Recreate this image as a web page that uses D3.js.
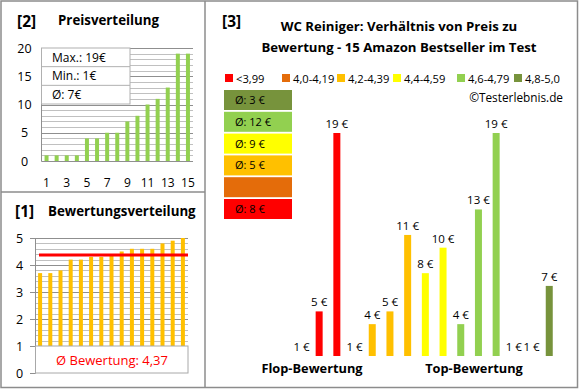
<!DOCTYPE html>
<html><head><meta charset="utf-8">
<script src="https://cdn.jsdelivr.net/npm/d3@7"></script>
<style>
body{margin:0;background:#fff}
svg{display:block}
text{font-family:'Open Sans',sans-serif;fill:#000}
</style>
</head><body>
<svg id="c" width="580" height="390"></svg>
<script>
// ---- data ----
const priceIdx = d3.range(1, 16);
const prices = [1,1,1,1,4,4,5,5,7,8,10,11,13,19,19];
const priceTicks = [0,5,10,15,20];
const priceXTicks = [1,3,5,7,9,11,13,15];
const priceStats = ["Max.: 19€","Min.: 1€","Ø: 7€"];

const ratings = [3.7,3.7,3.8,4.2,4.2,4.3,4.3,4.4,4.5,4.6,4.6,4.6,4.8,4.9,5.0];
const ratingTicks = [0,1,2,3,4,5];
const ratingAvg = 4.37;
const ratingAvgLabel = "Ø Bewertung: 4,37";

const groups = ["<3,99","4,0-4,19","4,2-4,39","4,4-4,59","4,6-4,79","4,8-5,0"];
const groupColors = ["#ff0000","#e46c0a","#ffc000","#ffff00","#92d050","#77933c"];
const groupAvgLabels = ["Ø: 8 €","","Ø: 5 €","Ø: 9 €","Ø: 12 €","Ø: 3 €"];
const slotPrices = [1,5,19,1,4,5,11,8,10,4,13,19,1,1,7];
const slotGroups = [0,0,0,2,2,2,2,3,3,4,4,4,5,5,5];
const sideLabels = ["Flop-Bewertung","Top-Bewertung"];

const svg = d3.select("#c");
const frame = "#8c8c8c";

// ---- frames ----
svg.append("rect").attr("x",1).attr("y",1).attr("width",576.5).attr("height",386.5)
  .attr("fill","none").attr("stroke",frame).attr("stroke-width",1.5);
svg.append("line").attr("x1",205).attr("x2",205).attr("y1",1).attr("y2",387.5)
  .attr("stroke",frame).attr("stroke-width",1.5);
svg.append("line").attr("x1",1).attr("x2",205).attr("y1",192).attr("y2",192)
  .attr("stroke",frame).attr("stroke-width",1.5);

// ---- panel [2] Preisverteilung ----
(function(){
  const g = svg.append("g");
  g.append("text").attr("x",17).attr("y",27).attr("font-size",15.5).attr("font-weight","bold").text("[2]");
  g.append("text").attr("x",58).attr("y",25).attr("font-size",13.3).attr("font-weight","bold").text("Preisverteilung");
  const x = d3.scaleBand().domain(priceIdx).range([41.5,193]);
  const y = d3.scaleLinear().domain([0,20]).range([161,48]);
  const gl = d3.range(0,21);
  g.selectAll(".gl").data(gl).join("line")
    .attr("x1",41.5).attr("x2",193).attr("y1",d=>Math.round(y(d))+0.5).attr("y2",d=>Math.round(y(d))+0.5)
    .attr("stroke",d=>d%5===0?"#8f8f8f":"#c0c0c0").attr("stroke-width",1);
  g.append("line").attr("x1",41.5).attr("x2",41.5).attr("y1",48).attr("y2",161.5).attr("stroke","#8f8f8f");
  g.selectAll(".b").data(prices).join("rect")
    .attr("x",(d,i)=>x(priceIdx[i])+x.bandwidth()/2-2).attr("width",4)
    .attr("y",d=>y(d)).attr("height",d=>y(0)-y(d)).attr("fill","#92d050");
  g.selectAll(".yt").data(priceTicks).join("text")
    .attr("x",24.5).attr("y",d=>y(d)+4.5).attr("text-anchor","middle").attr("font-size",12.5).text(d=>d);
  g.selectAll(".xt").data(priceXTicks).join("text")
    .attr("x",d=>x(d)+x.bandwidth()/2).attr("y",187).attr("text-anchor","middle").attr("font-size",12).text(d=>d);
  // stats box
  const rowH = 56/3;
  g.append("rect").attr("x",41.5).attr("y",48).attr("width",88.5).attr("height",56)
    .attr("fill","#fff").attr("stroke","#b0b0b0");
  g.selectAll(".sep").data([1,2]).join("line")
    .attr("x1",41.5).attr("x2",130).attr("y1",d=>48+d*rowH).attr("y2",d=>48+d*rowH).attr("stroke","#b0b0b0");
  g.selectAll(".st").data(priceStats).join("text")
    .attr("x",52).attr("y",(d,i)=>48+i*rowH+13.5).attr("font-size",12).text(d=>d);
})();

// ---- panel [1] Bewertungsverteilung ----
(function(){
  const g = svg.append("g");
  g.append("text").attr("x",15).attr("y",217).attr("font-size",15.5).attr("font-weight","bold").text("[1]");
  g.append("text").attr("x",48).attr("y",216).attr("font-size",13.3).attr("font-weight","bold").text("Bewertungsverteilung");
  const x = d3.scaleBand().domain(priceIdx).range([35,188]);
  const y = d3.scaleLinear().domain([0,5]).range([373,238]);
  const gl = d3.range(5,26).map(d=>d/5);
  g.selectAll(".gl").data(gl).join("line")
    .attr("x1",35).attr("x2",188).attr("y1",d=>Math.round(y(d))+0.5).attr("y2",d=>Math.round(y(d))+0.5)
    .attr("stroke",d=>Math.abs(d-Math.round(d))<1e-6?"#8f8f8f":"#c0c0c0");
  g.append("line").attr("x1",35.5).attr("x2",35.5).attr("y1",238).attr("y2",373.5).attr("stroke","#8f8f8f");
  g.selectAll(".tk").data(ratingTicks).join("line")
    .attr("x1",30).attr("x2",35.5).attr("y1",d=>Math.round(y(d))+0.5).attr("y2",d=>Math.round(y(d))+0.5).attr("stroke","#8f8f8f");
  g.selectAll(".b").data(ratings).join("rect")
    .attr("x",(d,i)=>x(priceIdx[i])+x.bandwidth()/2-2).attr("width",4)
    .attr("y",d=>y(d)).attr("height",d=>y(0)-y(d)).attr("fill","#ffc000");
  g.append("line").attr("x1",39).attr("x2",188).attr("y1",y(ratingAvg)).attr("y2",y(ratingAvg))
    .attr("stroke","#ff0000").attr("stroke-width",3);
  g.append("rect").attr("x",35.5).attr("y",y(1)).attr("width",152.5).attr("height",y(0)-y(1))
    .attr("fill","#fff").attr("stroke","#a8a8a8");
  g.append("text").attr("x",112).attr("y",365).attr("text-anchor","middle").attr("font-size",13)
    .style("fill","#ff0000").text(ratingAvgLabel);
  g.selectAll(".yt").data(ratingTicks).join("text")
    .attr("x",19.5).attr("y",d=>y(d)+4.5).attr("text-anchor","middle").attr("font-size",12.5).text(d=>d);
})();

// ---- panel [3] ----
(function(){
  const g = svg.append("g");
  g.append("text").attr("x",222).attr("y",27).attr("font-size",15.5).attr("font-weight","bold").text("[3]");
  g.append("text").attr("x",399).attr("y",31).attr("text-anchor","middle").attr("font-size",13.2).attr("font-weight","bold")
    .text("WC Reiniger: Verhältnis von Preis zu");
  g.append("text").attr("x",399).attr("y",51.5).attr("text-anchor","middle").attr("font-size",13.2).attr("font-weight","bold")
    .text("Bewertung - 15 Amazon Bestseller im Test");
  // legend
  const lx = [225,282,337,393,457,514];
  const lg = g.selectAll(".lg").data(groups).join("g").attr("transform",(d,i)=>`translate(${lx[i]},74)`);
  lg.append("rect").attr("width",8).attr("height",8).attr("fill",(d,i)=>groupColors[i]);
  lg.append("text").attr("x",11).attr("y",8.5).attr("font-size",11.2).text(d=>d);
  g.append("text").attr("x",563).attr("y",102).attr("text-anchor","end").attr("font-size",11.8).text("©Testerlebnis.de");
  // avg boxes (top = best group)
  const order = d3.range(groups.length).reverse();
  const bx = g.selectAll(".ab").data(order).join("g").attr("transform",(d,k)=>`translate(224,${90+k*21.8})`);
  bx.append("rect").attr("width",68).attr("height",20).attr("fill",d=>groupColors[d]);
  bx.append("text").attr("x",11).attr("y",14).attr("font-size",11).text(d=>groupAvgLabels[d]);
  // bars
  const x = d3.scaleBand().domain(d3.range(slotPrices.length)).range([292.6,558.1]);
  const y = d3.scaleLinear().domain([1.5,19]).range([356,133]);
  const base = y(1.5);
  g.selectAll(".pb").data(slotPrices).join("rect")
    .attr("x",(d,i)=>x(i)+x.bandwidth()/2-3.5).attr("width",7)
    .attr("y",d=>Math.min(base,y(d))).attr("height",d=>Math.max(0,base-y(d)))
    .attr("fill",(d,i)=>groupColors[slotGroups[i]]);
  g.selectAll(".pl").data(slotPrices).join("text")
    .attr("x",(d,i)=>x(i)+x.bandwidth()/2).attr("y",d=>Math.min(base,y(d))-5)
    .attr("text-anchor","middle").attr("font-size",11.5).text(d=>d+" €");
  g.append("text").attr("x",312).attr("y",373).attr("text-anchor","middle").attr("font-size",12.8).attr("font-weight","bold").text(sideLabels[0]);
  g.append("text").attr("x",474).attr("y",373).attr("text-anchor","middle").attr("font-size",12.8).attr("font-weight","bold").text(sideLabels[1]);
})();
</script>
</body></html>
